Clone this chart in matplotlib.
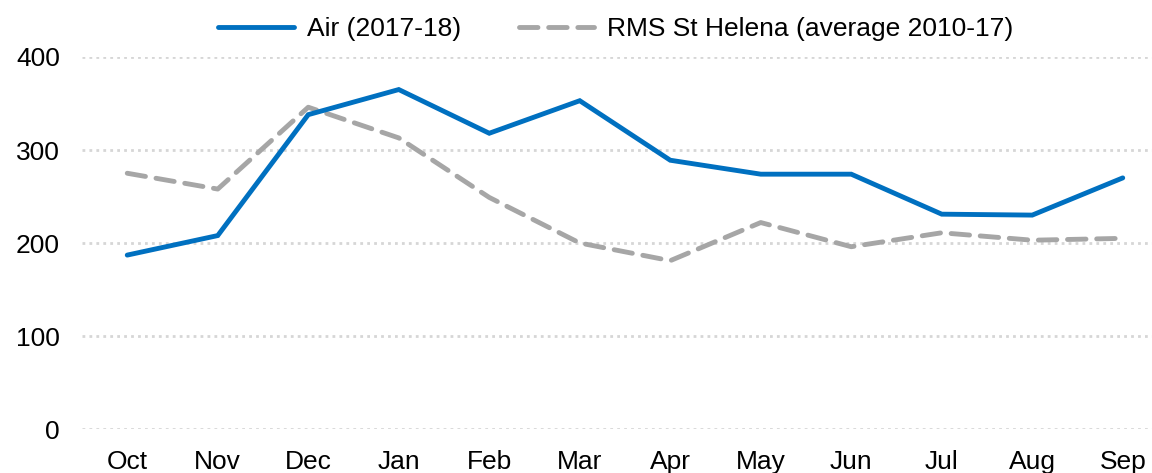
import matplotlib
matplotlib.use("Agg")
import matplotlib.pyplot as plt

months = ["Oct", "Nov", "Dec", "Jan", "Feb", "Mar", "Apr", "May", "Jun", "Jul", "Aug", "Sep"]
air = [187, 208, 338, 365, 318, 353, 289, 274, 274, 231, 230, 270]
rms = [275, 258, 346, 313, 249, 200, 181, 222, 196, 211, 203, 205]
yticks = [0, 100, 200, 300, 400]

plt.rcParams['font.family'] = ['Liberation Sans', 'DejaVu Sans']

fig = plt.figure(figsize=(11.52, 4.73), dpi=100)
W, H = 1152, 473
left_px, spacing = 82, 90.5
ax = fig.add_axes([left_px / W, (H - 429) / H, 12 * spacing / W, (429 - 57) / H])

x = list(range(len(months)))
ax.plot(x, air, color="#0070C0", lw=3.5, solid_capstyle="round", solid_joinstyle="miter",
        label="Air (2017-18)", clip_on=False, zorder=3)
ax.plot(x, rms, color="#A6A6A6", lw=3.5, dashes=(3.8, 2.2), dash_capstyle="round",
        label="RMS St Helena (average 2010-17)", clip_on=False, zorder=2)

ax.set_xlim(-0.5, 11.5)
ax.set_ylim(0, 400)
ax.set_xticks(x)
ax.set_xticklabels(months)
ax.set_yticks(yticks)
ax.tick_params(axis="both", length=0, labelsize=19, colors="black")
ax.tick_params(axis="x", pad=15)
ax.tick_params(axis="y", pad=16)
for s in ax.spines.values():
    s.set_visible(False)
ax.grid(axis="y", color="#D6D6D6", lw=2.0, linestyle=(0, (1, 1.5)))
ax.set_axisbelow(True)

fig.legend(loc="center", bbox_to_anchor=(616 / W, 1 - 29 / H), ncol=2, frameon=False,
           fontsize=19, handlelength=2.85, columnspacing=2.2, handletextpad=0.5)

fig.savefig("out.png", dpi=100)
